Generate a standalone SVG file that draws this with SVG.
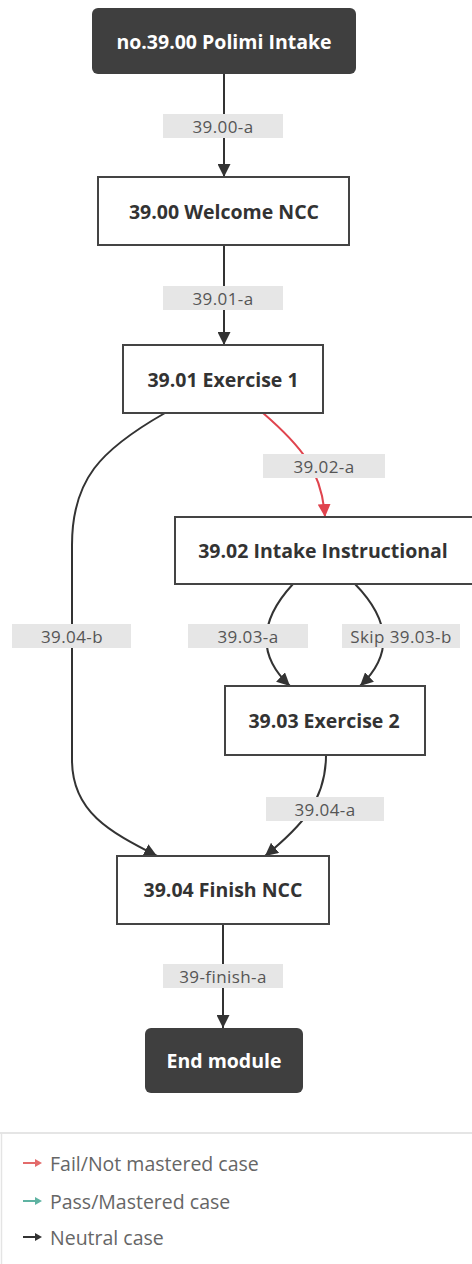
<svg xmlns="http://www.w3.org/2000/svg" width="472" height="1264" viewBox="0 0 472 1264">
  <style>
    .dark rect { fill: #3f3f3f; }
    .dark text { fill: #ffffff; font-weight: bold; }
    .box rect { fill: #ffffff; stroke: #444444; stroke-width: 2; }
    .box text { fill: #333333; font-weight: bold; }
    text { font-family: "Open Sans", "Noto Sans", "Liberation Sans", sans-serif; }
    .node text { font-size: 19.5px; text-anchor: middle; dominant-baseline: central; }
    .edge { fill: none; stroke: #333333; stroke-width: 2; }
    .edge.fail { stroke: #e0444e; }
    .lbl rect { fill: #e6e6e6; }
    .lbl text { font-size: 17px; letter-spacing: 0.4px; fill: #555555; text-anchor: middle; dominant-baseline: central; }
    .legend text { font-size: 19.5px; fill: #666666; dominant-baseline: central; }
  </style>
  <defs>
    <marker id="arrow" viewBox="0 0 12 12" refX="12" refY="6" markerWidth="13" markerHeight="13" markerUnits="userSpaceOnUse" orient="auto">
      <path d="M0,0 L12,6 L0,12 z" fill="#333333"/>
    </marker>
    <marker id="arrow-fail" viewBox="0 0 12 12" refX="12" refY="6" markerWidth="13" markerHeight="13" markerUnits="userSpaceOnUse" orient="auto">
      <path d="M0,0 L12,6 L0,12 z" fill="#e0444e"/>
    </marker>
  </defs>

  <rect width="472" height="1264" fill="#ffffff"/>

  <!-- connectors -->
  <g id="connectors">
    <path class="edge" d="M224,74 L224,177" marker-end="url(#arrow)"/>
    <path class="edge" d="M224,245 L224,345" marker-end="url(#arrow)"/>
    <path class="edge fail" d="M263,413 C300,445 322,470 325,517" marker-end="url(#arrow-fail)"/>
    <path class="edge" d="M165,413 C100,450 72,480 72,545 L72,760 C72,812 110,832 157,856" marker-end="url(#arrow)"/>
    <path class="edge" d="M293,584 C258,622 258,656 290,686" marker-end="url(#arrow)"/>
    <path class="edge" d="M355,584 C392,622 392,656 360,686" marker-end="url(#arrow)"/>
    <path class="edge" d="M326,755 C326,800 302,826 265,856" marker-end="url(#arrow)"/>
    <path class="edge" d="M223,924 L223,1028" marker-end="url(#arrow)"/>

    <g class="lbl"><rect x="163" y="114" width="120" height="24"/><text x="223" y="126">39.00-a</text></g>
    <g class="lbl"><rect x="163" y="286" width="120" height="24"/><text x="223" y="298">39.01-a</text></g>
    <g class="lbl"><rect x="263" y="454" width="122" height="24"/><text x="324" y="466">39.02-a</text></g>
    <g class="lbl"><rect x="12" y="624" width="119" height="24"/><text x="72" y="636">39.04-b</text></g>
    <g class="lbl"><rect x="188" y="624" width="120" height="24"/><text x="248" y="636">39.03-a</text></g>
    <g class="lbl"><rect x="342" y="624" width="118" height="24"/><text x="401" y="636">Skip 39.03-b</text></g>
    <g class="lbl"><rect x="266" y="797" width="118" height="24"/><text x="325" y="809">39.04-a</text></g>
    <g class="lbl"><rect x="163" y="964" width="120" height="24"/><text x="223" y="976">39-finish-a</text></g>
  </g>

  <!-- nodes -->
  <g id="n-start" class="node dark"><rect x="92" y="8" width="264" height="66" rx="6"/><text x="224" y="41">no.39.00 Polimi Intake</text></g>
  <g id="n-3900" class="node box"><rect x="98" y="177" width="251" height="68"/><text x="224" y="211">39.00 Welcome NCC</text></g>
  <g id="n-3901" class="node box"><rect x="123" y="345" width="200" height="68"/><text x="223" y="379">39.01 Exercise 1</text></g>
  <g id="n-3902" class="node box"><rect x="175" y="517" width="298" height="67"/><text x="323" y="550">39.02 Intake Instructional</text></g>
  <g id="n-3903" class="node box"><rect x="225" y="686" width="200" height="69"/><text x="324" y="720">39.03 Exercise 2</text></g>
  <g id="n-3904" class="node box"><rect x="117" y="856" width="212" height="68"/><text x="223" y="889">39.04 Finish NCC</text></g>
  <g id="n-end" class="node dark"><rect x="145" y="1028" width="158" height="65" rx="6"/><text x="224" y="1060">End module</text></g>

  <!-- legend -->
  <g id="legend" class="legend">
    <line x1="0" y1="1133" x2="472" y2="1133" stroke="#dddddd" stroke-width="1.5"/>
    <line x1="1.5" y1="1133" x2="1.5" y2="1264" stroke="#e4e4e4" stroke-width="1.5"/>
    <g>
      <line x1="23" y1="1163" x2="36" y2="1163" stroke="#e36b6b" stroke-width="2"/>
      <path d="M35,1159 L42,1163 L35,1167 z" fill="#e36b6b"/>
      <text x="50" y="1163">Fail/Not mastered case</text>
    </g>
    <g>
      <line x1="23" y1="1201" x2="36" y2="1201" stroke="#5fb3a2" stroke-width="2"/>
      <path d="M35,1197 L42,1201 L35,1205 z" fill="#5fb3a2"/>
      <text x="50" y="1201">Pass/Mastered case</text>
    </g>
    <g>
      <line x1="23" y1="1237" x2="36" y2="1237" stroke="#333333" stroke-width="2"/>
      <path d="M35,1233 L42,1237 L35,1241 z" fill="#333333"/>
      <text x="50" y="1237">Neutral case</text>
    </g>
  </g>
</svg>
